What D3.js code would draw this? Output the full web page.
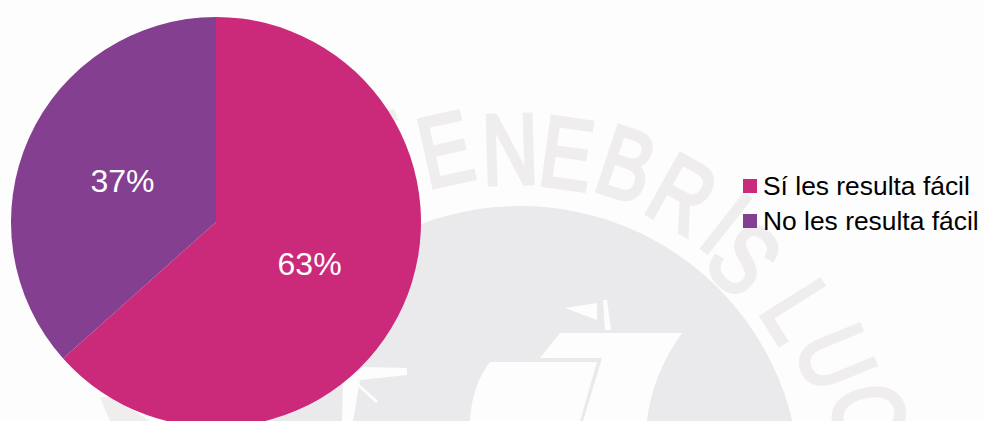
<!DOCTYPE html>
<html>
<head>
<meta charset="utf-8">
<script src="https://cdn.jsdelivr.net/npm/d3@7"></script>
<style>
  html, body { margin: 0; padding: 0; background: #fdfdfd; overflow: hidden; }
  text { font-family: "Liberation Sans", Arial, sans-serif; }
</style>
</head>
<body>
<div id="chart"></div>
<script>
// chart values
var categories = ["Sí les resulta fácil", "No les resulta fácil"];
var values = [63.4, 36.6];
var colors = ["#cb2a7b", "#843f90"];

// watermark letters
var sealLetters = ["T", "E", "N", "E", "B", "R", "I", "S", "L", "U", "C"];
var sealLetterX = [385, 445, 510, 567, 627, 683, 727, 745, 800, 837, 870];
var sealLetterY = [150, 148, 148, 152, 163, 193, 222, 258, 310, 357, 413];

// set the dimensions of the graph
var width = 984, height = 421;
var radius = 205;

var svg = d3.select("#chart")
  .append("svg")
    .attr("width", width)
    .attr("height", height)
    .style("display", "block");

// faded seal behind the chart
var seal = svg.append("g");
var sealX = 520, sealY = 486, sealR = 280;

seal.append("circle")
  .attr("cx", sealX)
  .attr("cy", sealY)
  .attr("r", sealR)
  .attr("fill", "#eaeaec");

seal.selectAll("text")
  .data(sealLetters)
  .enter()
  .append("text")
    .attr("transform", function(d, i) {
      var a = Math.atan2(sealLetterX[i] - sealX, sealY - sealLetterY[i]) * 180 / Math.PI;
      return "translate(" + sealLetterX[i] + "," + sealLetterY[i] + ")rotate(" + a + ")scale(0.78,1)";
    })
    .attr("text-anchor", "middle")
    .attr("dy", "0.36em")
    .style("font-family", "'Liberation Sans Narrow', 'Liberation Sans'")
    .attr("font-size", 100)
    .attr("fill", "#efeded")
    .attr("stroke", "#efeded")
    .attr("stroke-width", 4)
    .text(function(d) { return d; });

seal.append("path")
  .attr("d", "M100,397L112,397L150,421L110,421Z")
  .attr("fill", "#efeded");

// ship
var shipShapes = [
  "M565,308L597,303L597,320Z",
  "M603,300L607,300L611,330L605,330Z",
  "M560,333L682,333Q652,375 647,421L583,421L602,358L540,358Z",
  "M490,362L597,362L580,421L470,421Q472,385 490,362Z",
  "M363,367L407,368L407,375L360,380L353,421L342,421L343,383Z"
];
seal.selectAll("path.ship")
  .data(shipShapes)
  .enter()
  .append("path")
    .attr("class", "ship")
    .attr("d", function(d) { return d; })
    .attr("fill", "#fdfdfd");

seal.append("path")
  .attr("d", "M355,382L377,402")
  .attr("stroke", "#fdfdfd")
  .attr("stroke-width", 3);

// Pie
var pie = d3.pie().sort(null);
var arc = d3.arc().innerRadius(0).outerRadius(radius);

var g = svg.append("g")
  .attr("transform", "translate(216,222)");

var slices = g.selectAll("g.slice")
  .data(pie(values))
  .enter()
  .append("g")
    .attr("class", "slice");

slices.append("path")
  .attr("d", arc)
  .attr("fill", function(d, i) { return colors[i]; });

slices.append("text")
  .attr("transform", function(d) { return "translate(" + arc.centroid(d) + ")"; })
  .attr("text-anchor", "middle")
  .attr("dy", "0.36em")
  .attr("font-size", 32)
  .attr("fill", "#fff")
  .text(function(d) { return Math.round(d.value) + "%"; });

// Legend
var legend = svg.selectAll("g.legend")
  .data(categories)
  .enter()
  .append("g")
    .attr("class", "legend")
    .attr("transform", function(d, i) { return "translate(743," + (179 + i * 35) + ")"; });

legend.append("rect")
  .attr("width", 14)
  .attr("height", 14)
  .attr("fill", function(d, i) { return colors[i]; });

legend.append("text")
  .attr("x", 20)
  .attr("y", 16)
  .attr("font-size", 26.4)
  .attr("fill", "#000")
  .text(function(d) { return d; });
</script>
</body>
</html>
